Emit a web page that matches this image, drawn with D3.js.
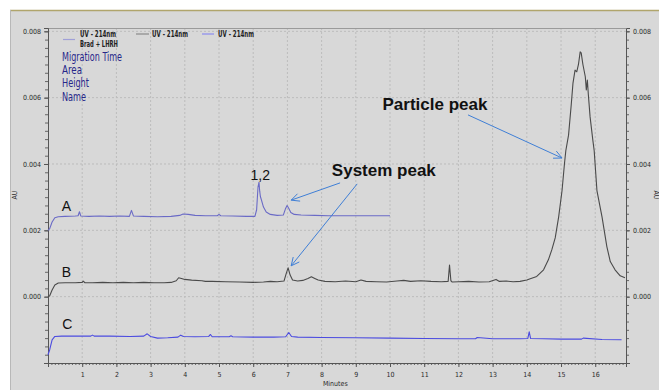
<!DOCTYPE html>
<html>
<head>
<meta charset="utf-8">
<script src="https://d3js.org/d3.v7.min.js"></script>
<style>
  body { margin: 0; background: #fff; }
  svg { display: block; }
  .tick text { font-family: "Liberation Sans Narrow", "DejaVu Sans Condensed", sans-serif; font-size: 7px; }
</style>
</head>
<body>
<script>
// trace A: Brad + LHRH (minutes, AU)
var timeA = [0.00,0.05,0.12,0.20,0.30,0.50,0.80,0.88,0.92,0.96,1.20,1.50,1.80,2.10,2.38,2.44,2.50,2.80,3.20,3.60,3.85,3.95,4.10,4.30,4.60,4.95,5.00,5.05,5.40,5.80,6.05,6.10,6.14,6.17,6.19,6.21,6.24,6.30,6.38,6.50,6.70,6.88,6.94,6.99,7.03,7.10,7.20,7.40,7.80,8.20,8.60,9.00,9.50,10.00];
var valA  = [0.00200,0.00205,0.00225,0.00238,0.00241,0.00242,0.00243,0.00244,0.00256,0.00243,0.00242,0.00243,0.00242,0.00243,0.00242,0.00260,0.00243,0.00242,0.00241,0.00242,0.00245,0.00249,0.00248,0.00245,0.00244,0.00244,0.00248,0.00244,0.00243,0.00242,0.00242,0.00262,0.00330,0.00345,0.00318,0.00302,0.00292,0.00270,0.00255,0.00248,0.00245,0.00246,0.00264,0.00275,0.00268,0.00254,0.00248,0.00246,0.00245,0.00244,0.00244,0.00244,0.00244,0.00244];

// trace B: particles
var timeB = [0.00,0.05,0.12,0.20,0.30,0.50,0.80,1.00,1.03,1.08,1.30,1.60,1.90,2.20,2.50,2.80,3.10,3.40,3.60,3.75,3.82,3.90,4.00,4.20,4.50,4.60,4.80,5.20,5.60,6.00,6.30,6.50,6.70,6.90,6.96,7.02,7.08,7.15,7.30,7.45,7.60,7.70,7.80,7.90,8.10,8.40,8.70,9.00,9.15,9.30,9.60,9.90,10.20,10.40,10.60,10.90,11.20,11.50,11.70,11.74,11.78,11.82,12.00,12.30,12.60,12.90,13.10,13.20,13.40,13.60,13.80,14.00,14.10,14.29,14.49,14.63,14.73,14.83,14.93,15.03,15.10,15.14,15.22,15.30,15.35,15.41,15.46,15.51,15.56,15.59,15.64,15.71,15.74,15.77,15.80,15.85,15.93,15.97,16.05,16.20,16.34,16.44,16.58,16.73,16.87];
var valB  = [0.00000,0.00003,0.00020,0.00035,0.00041,0.00042,0.00042,0.00043,0.00047,0.00042,0.00042,0.00043,0.00042,0.00043,0.00042,0.00043,0.00042,0.00042,0.00043,0.00048,0.00057,0.00055,0.00052,0.00050,0.00048,0.00046,0.00046,0.00045,0.00044,0.00043,0.00044,0.00046,0.00045,0.00047,0.00068,0.00087,0.00065,0.00050,0.00047,0.00049,0.00055,0.00060,0.00055,0.00050,0.00046,0.00045,0.00047,0.00045,0.00050,0.00046,0.00045,0.00044,0.00047,0.00049,0.00046,0.00048,0.00046,0.00045,0.00046,0.00095,0.00048,0.00044,0.00045,0.00046,0.00044,0.00045,0.00052,0.00046,0.00047,0.00045,0.00046,0.00050,0.00054,0.00061,0.00081,0.00111,0.00141,0.00177,0.00240,0.00320,0.00400,0.00440,0.00487,0.00580,0.00644,0.00683,0.00678,0.00700,0.00738,0.00735,0.00700,0.00663,0.00623,0.00653,0.00608,0.00542,0.00472,0.00440,0.00320,0.00240,0.00151,0.00106,0.00081,0.00063,0.00057];

// trace C: blank
var timeC = [0.00,0.05,0.12,0.20,0.40,0.80,1.25,1.30,1.35,1.80,2.40,2.80,2.90,3.00,3.20,3.50,3.80,3.88,3.96,4.30,4.70,4.75,4.80,5.30,5.35,5.40,6.00,6.60,6.95,7.04,7.12,7.30,8.00,9.00,10.00,11.00,12.00,12.50,12.55,13.00,13.80,14.03,14.07,14.11,14.50,15.00,15.60,15.65,16.20,16.77];
var valC  = [-0.00175,-0.00160,-0.00130,-0.00120,-0.00119,-0.00119,-0.00119,-0.00116,-0.00119,-0.00119,-0.00120,-0.00119,-0.00112,-0.00120,-0.00125,-0.00124,-0.00122,-0.00116,-0.00120,-0.00121,-0.00120,-0.00114,-0.00121,-0.00121,-0.00118,-0.00121,-0.00122,-0.00122,-0.00121,-0.00108,-0.00120,-0.00122,-0.00123,-0.00124,-0.00125,-0.00126,-0.00127,-0.00127,-0.00123,-0.00127,-0.00127,-0.00126,-0.00106,-0.00126,-0.00127,-0.00128,-0.00128,-0.00125,-0.00129,-0.00130];

var xTicks = [1,2,3,4,5,6,7,8,9,10,11,12,13,14,15,16];
var yTicks = [0.000,0.002,0.004,0.006,0.008];
var legendLabels = ["UV - 214nm", "UV - 214nm", "UV - 214nm"];
var infoLines = ["Migration Time", "Area", "Height", "Name"];
var infoWidths = [60, 20, 27, 24];

var W = 659, H = 390;
var margin = { top: 28, right: 33, bottom: 27, left: 48 };
var width = W - margin.left - margin.right;
var height = H - margin.top - margin.bottom;

var x = d3.scaleLinear().domain([0, 16.9]).range([0, width]);
var y = d3.scaleLinear().domain([-0.002, 0.0081]).range([height, 0]);

var svg = d3.select("body").append("svg").attr("width", W).attr("height", H);

// grey panel
svg.append("rect").attr("x", 10).attr("y", 10).attr("width", W - 10).attr("height", H - 10).attr("fill", "#d8d8d8");
svg.append("line").attr("x1", 10).attr("x2", W).attr("y1", 10.5).attr("y2", 10.5).attr("stroke", "#b0a56c").attr("stroke-width", 1.5);
svg.append("line").attr("x1", 10.5).attr("x2", 10.5).attr("y1", 10).attr("y2", H).attr("stroke", "#b8b8b8");

var g = svg.append("g").attr("transform", "translate(" + margin.left + "," + margin.top + ")");

// grid
g.selectAll(".vgrid").data(xTicks).enter().append("line")
  .attr("x1", function (d) { return x(d); }).attr("x2", function (d) { return x(d); })
  .attr("y1", 0).attr("y2", height)
  .attr("stroke", "#bcbcbc").attr("stroke-dasharray", "2,2");
g.selectAll(".hgrid").data(yTicks).enter().append("line")
  .attr("x1", 0).attr("x2", width)
  .attr("y1", function (d) { return y(d); }).attr("y2", function (d) { return y(d); })
  .attr("stroke", "#bcbcbc").attr("stroke-dasharray", "2,2");

// frame top
g.append("line").attr("x1", 0).attr("x2", width).attr("y1", 0.5).attr("y2", 0.5).attr("stroke", "#9a9a9a");

// axes
var fmt = d3.format(".3f");
var yMinor = d3.range(-0.002, 0.00811, 0.00025);
var xMinor = d3.range(0, 16.91, 0.1);

function styleAxis(s) {
  s.select(".domain").attr("stroke", "#555");
  s.selectAll("line").attr("stroke", "#555");
  s.selectAll("text").attr("fill", "#2a2a2a");
}
function styleMinor(s) { s.select(".domain").remove(); s.selectAll("line").attr("stroke", "#666"); }

g.append("g").call(d3.axisLeft(y).tickValues(yMinor).tickSize(3).tickFormat("")).call(styleMinor);
g.append("g").call(d3.axisLeft(y).tickValues(yTicks).tickSize(4).tickFormat(fmt)).call(styleAxis);

g.append("g").attr("transform", "translate(" + width + ",0)")
  .call(d3.axisRight(y).tickValues(yMinor).tickSize(3).tickFormat("")).call(styleMinor);
g.append("g").attr("transform", "translate(" + width + ",0)")
  .call(d3.axisRight(y).tickValues(yTicks).tickSize(4).tickFormat(fmt)).call(styleAxis);

g.append("g").attr("transform", "translate(0," + height + ")")
  .call(d3.axisBottom(x).tickValues(xMinor).tickSize(2).tickFormat("")).call(styleMinor);
g.append("g").attr("transform", "translate(0," + height + ")")
  .call(d3.axisBottom(x).tickValues(xTicks).tickSize(4).tickPadding(5).tickFormat(d3.format("d"))).call(styleAxis);

var narrow = '"Liberation Sans Narrow", "DejaVu Sans Condensed", sans-serif';

svg.append("text").attr("x", margin.left + x(8.4)).attr("y", H - 4)
  .attr("text-anchor", "middle").style("font-family", narrow).style("font-size", "7px").attr("fill", "#2a2a2a").text("Minutes");
svg.append("text").attr("transform", "translate(17,195) rotate(-90)")
  .attr("text-anchor", "middle").style("font-family", narrow).style("font-size", "7px").attr("fill", "#2a2a2a").text("AU");
svg.append("text").attr("transform", "translate(654,195) rotate(90)")
  .attr("text-anchor", "middle").style("font-family", narrow).style("font-size", "7px").attr("fill", "#2a2a2a").text("AU");

// traces
function pts(t, v) { return t.map(function (d, i) { return [d, v[i]]; }); }
var line = d3.line().x(function (d) { return x(d[0]); }).y(function (d) { return y(d[1]); });

var traces = [
  { data: pts(timeA, valA), color: "#6a6ac6" },
  { data: pts(timeB, valB), color: "#4a4a4a" },
  { data: pts(timeC, valC), color: "#4b4be0" }
];
g.selectAll(".trace").data(traces).enter().append("path")
  .attr("fill", "none").attr("stroke-width", 1.1).attr("stroke-linejoin", "round")
  .attr("stroke", function (d) { return d.color; })
  .attr("d", function (d) { return line(d.data); });

// legend
var legendSwatch = [
  { x0: 15, x1: 27, yy: 39.5, color: "#a0a0d8", tx: 32, ty: 37 },
  { x0: 88, x1: 101, yy: 34, color: "#8a8a8a", tx: 104, ty: 37 },
  { x0: 154, x1: 166, yy: 34, color: "#8c8cf0", tx: 170, ty: 37 }
];
legendSwatch.forEach(function (s, i) {
  svg.append("line").attr("x1", margin.left + s.x0).attr("x2", margin.left + s.x1)
    .attr("y1", s.yy).attr("y2", s.yy).attr("stroke", s.color).attr("stroke-width", 1.2);
  svg.append("text").attr("x", margin.left + s.tx).attr("y", s.ty)
    .attr("textLength", 36).attr("lengthAdjust", "spacingAndGlyphs")
    .style("font-family", narrow).style("font-size", "8px").style("font-weight", "bold")
    .attr("fill", "#222").text(legendLabels[i]);
});
svg.append("text").attr("x", margin.left + 32).attr("y", 46.5)
  .attr("textLength", 38).attr("lengthAdjust", "spacingAndGlyphs")
  .style("font-family", narrow).style("font-size", "8px").style("font-weight", "bold")
  .attr("fill", "#222").text("Brad + LHRH");

svg.selectAll(".info").data(infoLines).enter().append("text")
  .attr("x", 62).attr("y", function (d, i) { return 61 + i * 13.2; })
  .attr("textLength", function (d, i) { return infoWidths[i]; }).attr("lengthAdjust", "spacingAndGlyphs")
  .style("font-family", narrow).style("font-size", "11.5px")
  .attr("fill", "#27278a").text(function (d) { return d; });

// annotations
var plain = '"Liberation Sans", Arial, sans-serif';
var labels = [
  { t: "A", x: 0.40, y: 0.00257, size: 14, bold: false },
  { t: "B", x: 0.40, y: 0.00058, size: 14, bold: false },
  { t: "C", x: 0.42, y: -0.00098, size: 14, bold: false },
  { t: "1,2", x: 5.92, y: 0.00353, size: 14, bold: false },
  { t: "System peak", x: 8.30, y: 0.00363, size: 17, bold: true },
  { t: "Particle peak", x: 9.78, y: 0.00562, size: 17, bold: true }
];
g.selectAll(".lab").data(labels).enter().append("text")
  .attr("x", function (d) { return x(d.x); }).attr("y", function (d) { return y(d.y); })
  .style("font-family", plain).style("font-size", function (d) { return d.size + "px"; })
  .style("font-weight", function (d) { return d.bold ? "bold" : "normal"; })
  .attr("fill", "#111").text(function (d) { return d.t; });

var arrows = [
  { from: [8.54, 0.00343], to: [7.11, 0.00291] },
  { from: [9.04, 0.00340], to: [7.11, 0.00093] },
  { from: [12.28, 0.00548], to: [15.03, 0.00418] }
];
arrows.forEach(function (a) {
  var x1 = x(a.from[0]), y1 = y(a.from[1]), x2 = x(a.to[0]), y2 = y(a.to[1]);
  var ang = Math.atan2(y2 - y1, x2 - x1), L = 9, spread = 0.45;
  var p1 = [x2 - L * Math.cos(ang - spread), y2 - L * Math.sin(ang - spread)];
  var p2 = [x2 - L * Math.cos(ang + spread), y2 - L * Math.sin(ang + spread)];
  g.append("line").attr("x1", x1).attr("y1", y1).attr("x2", x2).attr("y2", y2)
    .attr("stroke", "#3f7fd6").attr("stroke-width", 1);
  g.append("path").attr("d", "M" + p1 + "L" + [x2, y2] + "L" + p2)
    .attr("fill", "none").attr("stroke", "#3f7fd6").attr("stroke-width", 1);
});
</script>
</body>
</html>
